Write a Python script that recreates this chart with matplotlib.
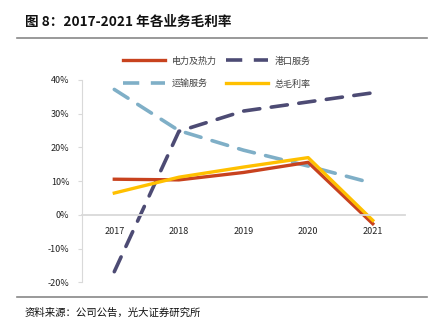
import numpy as np
import matplotlib.pyplot as plt
from matplotlib.lines import Line2D

plt.rcParams['font.family'] = ['Noto Sans CJK SC', 'DejaVu Sans']

# data
years = ['2017', '2018', '2019', '2020', '2021']
power = [10.6, 10.4, 12.6, 15.6, -2.6]
port = [-16.8, 24.8, 30.8, 33.5, 36.2]
transport = [37.2, 25.0, 19.2, 14.5, 9.4]
total = [6.5, 11.2, 14.2, 17.0, -1.6]
yticks = [-20, -10, 0, 10, 20, 30, 40]

names = ['电力及热力', '港口服务', '运输服务', '总毛利率']
colors = ['#C8421E', '#4D4B74', '#7FAFC7', '#FFC000']

fig = plt.figure(figsize=(4.37, 3.22), dpi=100)
ax = fig.add_axes([0.1876, 0.1227, 0.7394, 0.6289])

x = np.arange(len(years))
ax.plot(x, port, color=colors[1], lw=2.6, dashes=(4.5, 3.2), dash_capstyle='round')
ax.plot(x, transport, color=colors[2], lw=2.6, dashes=(4.5, 3.2), dash_capstyle='round')
ax.plot(x, power, color=colors[0], lw=2.4)
ax.plot(x, total, color=colors[3], lw=2.4)

for s in ['top', 'right']:
    ax.spines[s].set_visible(False)
ax.spines['left'].set_color('#D9D9D9')
ax.spines['bottom'].set_position(('data', 0))
ax.spines['bottom'].set_color('#D9D9D9')
ax.spines['bottom'].set_linewidth(1.3)

ax.set_xlim(-0.5, 4.5)
ax.set_ylim(-20, 40)
ax.set_yticks(yticks)
ax.set_yticklabels([f'{v}%' for v in yticks])
ax.set_xticks(x)
ax.set_xticklabels(years)
ax.tick_params(axis='y', length=3, color='#D9D9D9', pad=6, labelcolor='#222222', labelsize=6.5)
ax.tick_params(axis='x', length=0, pad=9, labelcolor='#222222', labelsize=6.5)

# legend
handles = [
    Line2D([], [], color=colors[0], lw=2.4),
    Line2D([], [], color=colors[2], lw=2.6, dashes=(4.5, 3.2)),
    Line2D([], [], color=colors[1], lw=2.6, dashes=(4.5, 3.2)),
    Line2D([], [], color=colors[3], lw=2.4),
]
labels = [names[0], names[2], names[1], names[3]]
leg = ax.legend(handles, labels, ncol=2, frameon=False, fontsize=6.5,
                loc='lower left', bbox_to_anchor=(0.115, 0.94), borderaxespad=0,
                handlelength=4.7, columnspacing=1.0, labelspacing=1.55, handletextpad=0.7)
for t in leg.get_texts():
    t.set_color('#404040')

# title and source
fig.text(0.057, 0.92, '图 8：2017-2021 年各业务毛利率', fontsize=9.8, fontweight='bold', color='#111111')
fig.add_artist(Line2D([0.038, 0.978], [0.882, 0.882], color='#888888', lw=1.2))
fig.add_artist(Line2D([0.038, 0.978], [0.078, 0.078], color='#888888', lw=1.2))
fig.text(0.057, 0.018, '资料来源：公司公告，光大证券研究所', fontsize=7.5, color='#111111')

fig.savefig('out.png', dpi=100)
